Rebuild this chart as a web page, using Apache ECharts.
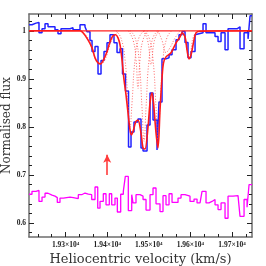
<!DOCTYPE html>
<html><head><meta charset="utf-8">
<script src="https://cdn.jsdelivr.net/npm/echarts@6/dist/echarts.min.js"></script>
<style>html,body{margin:0;padding:0;background:#fff}#c{width:266px;height:266px}</style>
</head><body><div id="c"></div>
<script>
// ---- data ----
const xMin = 19212, xMax = 19748;
const yMin = 0.571, yMax = 1.035;
const xMajorTicks = [19300, 19400, 19500, 19600, 19700];
const yMajorTicks = [0.6, 0.7, 0.8, 0.9, 1.0];

// observed flux (blue histogram), bin left edges + final right edge
const blueVel = [19212.0,19219.2,19228.8,19236.0,19243.3,19250.5,19257.7,19274.5,19281.7,19288.9,19310.6,19317.8,19334.6,19346.6,19351.4,19358.6,19363.5,19370.7,19377.9,19385.1,19392.3,19399.5,19406.7,19416.3,19423.6,19430.8,19436.8,19444.0,19451.2,19457.2,19464.4,19474.0,19481.2,19486.1,19495.7,19502.9,19510.1,19519.7,19524.5,19531.7,19541.3,19548.6,19555.8,19565.4,19572.6,19579.8,19587.0,19594.2,19601.4,19611.1,19615.9,19630.3,19637.5,19659.1,19666.4,19673.6,19683.2,19690.4,19712.0,19719.2,19728.9,19738.5,19743.3,19748];
const blueFlux = [1.0125,1.016,1.0173,0.9958,1.0042,1.0146,1.0083,1.0021,0.9938,1.0042,1.0063,1.0021,1.0125,1.0083,0.9979,0.9798,0.9569,0.9673,0.9104,0.9381,0.9569,0.975,0.9917,0.975,0.9548,0.9625,0.9104,0.875,0.7583,0.7896,0.8104,0.8167,0.7563,0.75,0.8042,0.8708,0.8146,0.7521,0.8521,0.9417,0.9438,0.95,0.9604,0.9813,0.9917,0.9985,0.9756,0.9438,0.9569,0.9917,0.9958,1.0146,0.9958,0.9881,0.9777,0.9958,0.9604,1.0042,1.0083,0.9625,0.9958,0.9833,1.0313,1.0313];

// error spectrum (magenta histogram, offset)
const errVel = [19212.0,19219.2,19228.8,19236.0,19243.3,19250.5,19257.7,19267.3,19274.5,19280.0,19286.5,19294.5,19310.6,19318.5,19330.5,19338.7,19346.6,19354.6,19362.7,19370.7,19377.2,19382.7,19390.6,19397.1,19405.0,19410.8,19418.7,19424.3,19432.4,19438.7,19443.5,19450.7,19458.9,19462.0,19469.2,19478.8,19486.1,19493.3,19502.9,19510.1,19517.3,19526.9,19534.1,19541.3,19548.6,19555.8,19570.2,19577.4,19587.0,19599.0,19608.7,19615.9,19623.1,19627.9,19637.5,19644.7,19651.9,19659.1,19666.4,19673.6,19683.2,19690.4,19702.4,19714.4,19719.2,19728.9,19736.1,19740.9,19748];
const errFlux = [0.660,0.666,0.668,0.645,0.654,0.662,0.658,0.656,0.653,0.643,0.652,0.654,0.653,0.651,0.659,0.6625,0.660,0.659,0.649,0.675,0.631,0.645,0.661,0.638,0.661,0.638,0.652,0.623,0.660,0.666,0.697,0.626,0.659,0.642,0.659,0.656,0.649,0.627,0.659,0.673,0.640,0.624,0.657,0.638,0.661,0.643,0.652,0.659,0.656,0.645,0.650,0.642,0.645,0.666,0.642,0.645,0.649,0.638,0.628,0.642,0.610,0.656,0.657,0.659,0.614,0.649,0.633,0.680,0.680];

// total fit (red solid)
const fitVel = [19212,19334.6,19341.8,19353.8,19363.5,19370.7,19377.9,19384.4,19389.9,19399.5,19406.7,19413.9,19420.4,19426.0,19430.8,19435.6,19440.4,19445.2,19450.0,19454.8,19458.4,19463.2,19468.5,19474.0,19481.2,19486.1,19490.9,19498.1,19502.9,19507.7,19511.3,19517.3,19522.1,19526.9,19531.7,19535.3,19541.3,19553.4,19565.4,19575.0,19579.8,19587.0,19591.8,19596.6,19601.4,19608.7,19613.5,19623.1,19748];
const fitFlux = [1.0,1.0,0.9958,0.9813,0.9646,0.9438,0.9333,0.9313,0.9375,0.9563,0.9771,0.9896,0.9917,0.9854,0.9708,0.9396,0.8979,0.8667,0.8292,0.7938,0.7833,0.7938,0.8104,0.8146,0.7875,0.7563,0.7542,0.80,0.85,0.8708,0.85,0.7875,0.7563,0.8354,0.9021,0.9333,0.9458,0.9542,0.975,0.9875,0.9958,0.9875,0.9604,0.9417,0.95,0.9813,0.9958,0.999,1.0];

// continuum
const contVel = [19212, 19748];
const contFlux = [1.0, 1.0];

// individual components (red dotted)
const compA_vel = [19421.0,19433.0,19442.8,19450.0,19454.8,19459.6,19466.8,19476.0,19488.6];
const compA_flux = [1.0,0.985,0.94,0.85,0.80,0.85,0.94,0.985,1.0];
const compB_vel = [19455.6,19467.2,19476.4,19483.6,19488.5,19493.3,19500.5,19509.7,19521.3];
const compB_flux = [1.0,0.985,0.94,0.84,0.77,0.84,0.94,0.985,1.0];
const compC_vel = [19489.3,19500.9,19510.1,19517.3,19522.1,19526.9,19534.1,19543.3,19554.9];
const compC_flux = [1.0,0.985,0.94,0.84,0.77,0.84,0.94,0.985,1.0];
const compD_vel = [19450.8,19462.4,19469.2,19474.0,19478.8,19485.6,19497.3];
const compD_flux = [1.0,0.98,0.94,0.88,0.94,0.98,1.0];
const compE_vel = [19486.5,19497.1,19505.3,19513.5,19524.1];
const compE_flux = [1.0,0.98,0.93,0.98,1.0];
const compF_vel = [19339.4,19353.8,19363.5,19373.1,19384.4,19394.7,19404.3,19413.9,19428.4];
const compF_flux = [1.0,0.985,0.965,0.94,0.931,0.94,0.965,0.985,1.0];
const compG_vel = [19577.4,19587.0,19591.8,19596.6,19601.4,19606.2,19615.9];
const compG_flux = [1.0,0.985,0.96,0.945,0.96,0.985,1.0];
const compH_vel = [19522.1,19531.7,19541.3,19550.9,19562.9,19575.0];
const compH_flux = [1.0,0.98,0.955,0.965,0.985,1.0];

// arrow marker
const arrowVel = 19400;
const arrowFrom = 0.70, arrowTo = 0.742;

// ---- chart ----
const zip = (a, b) => a.map((v, i) => [v, b[i]]);
const xMinor = [];
for (let v = xMajorTicks[0] - 100; v <= xMax; v += 100 / 3) { if (v >= xMin && v <= xMax) xMinor.push(v); }
const yMinor = [];
for (let k = 0; k < 40; k++) { const v = 0.56 + k * 0.02; if (v >= yMin && v <= yMax) yMinor.push(+v.toFixed(3)); }

const frame = '#6e6e6e', tickCol = '#222';
const serif = 'Liberation Serif';
function xAx(pos, major, showLine, showLabel) {
  return {
    type: 'value', position: pos, min: xMin, max: xMax,
    axisLine: { show: showLine, onZero: false, lineStyle: { color: frame, width: 1.5 } },
    axisTick: { show: true, inside: true, length: major ? 5 : 3, customValues: major ? xMajorTicks : xMinor, lineStyle: { color: tickCol, width: 1 } },
    axisLabel: showLabel ? {
      show: true, customValues: xMajorTicks, margin: 4,
      formatter: v => '{a|' + (v / 1e4).toFixed(2) + '×10}{b|4}',
      rich: { a: { fontSize: 7.5, fontFamily: serif, fontWeight: 'bold', color: '#222' },
              b: { fontSize: 5, fontFamily: serif, fontWeight: 'bold', color: '#222', padding: [0, 0, 4, 0] } }
    } : { show: false },
    splitLine: { show: false },
    name: showLabel ? 'Heliocentric velocity (km/s)' : '',
    nameLocation: 'middle', nameGap: 16, nameMoveOverlap: false,
    nameTextStyle: { fontFamily: 'DejaVu Serif', fontSize: 13, color: '#333' }
  };
}
function yAx(pos, major, showLine, showLabel) {
  return {
    type: 'value', position: pos, min: yMin, max: yMax,
    axisLine: { show: showLine, onZero: false, lineStyle: { color: frame, width: 1.5 } },
    axisTick: { show: true, inside: true, length: major ? 5 : 3, customValues: major ? yMajorTicks : yMinor, lineStyle: { color: tickCol, width: 1 } },
    axisLabel: showLabel ? { show: true, customValues: yMajorTicks, margin: 3, fontSize: 7.5, fontFamily: serif, fontWeight: 'bold', color: '#222',
      formatter: v => (Math.abs(v - 1) < 1e-9 ? '1' : v.toFixed(1)) } : { show: false },
    splitLine: { show: false },
    name: showLabel ? 'Normalised flux' : '',
    nameLocation: 'middle', nameGap: 16, nameMoveOverlap: false,
    nameTextStyle: { fontFamily: 'DejaVu Serif', fontSize: 12, color: '#333' }
  };
}

const dotted = (vel, flux) => ({
  type: 'line', data: zip(vel, flux), smooth: 0.5, symbol: 'none', silent: true,
  lineStyle: { color: '#ff5c5c', width: 1, type: [1, 1.8], opacity: 0.9 }, z: 3
});

const chart = echarts.init(document.getElementById('c'), null, { renderer: 'canvas' });
chart.setOption({
  animation: false,
  backgroundColor: '#fff',
  grid: { left: 29, right: 14, top: 14, bottom: 29, containLabel: false, outerBoundsMode: 'none' },
  xAxis: [xAx('bottom', true, true, true), xAx('bottom', false, false, false), xAx('top', true, true, false), xAx('top', false, false, false)],
  yAxis: [yAx('left', true, true, true), yAx('left', false, false, false), yAx('right', true, true, false), yAx('right', false, false, false)],
  series: [
    { type: 'line', data: zip(errVel, errFlux), step: 'end', symbol: 'none', lineStyle: { color: '#ff00ff', width: 1.3 }, z: 2,
      markLine: { silent: true, symbol: ['none', 'arrow'], symbolSize: [6, 8], label: { show: false },
        lineStyle: { color: '#ff3b3b', width: 1.6, type: 'solid' },
        data: [[{ coord: [arrowVel, arrowFrom] }, { coord: [arrowVel, arrowTo] }]] } },
    { type: 'line', data: zip(blueVel, blueFlux), step: 'end', symbol: 'none', lineStyle: { color: '#2222ff', width: 1.5 }, z: 2 },
    dotted(compA_vel, compA_flux), dotted(compB_vel, compB_flux), dotted(compC_vel, compC_flux), dotted(compD_vel, compD_flux),
    dotted(compE_vel, compE_flux), dotted(compF_vel, compF_flux), dotted(compG_vel, compG_flux), dotted(compH_vel, compH_flux),
    { type: 'line', data: zip(contVel, contFlux), symbol: 'none', lineStyle: { color: '#ff2020', width: 1.3 }, z: 4 },
    { type: 'line', data: zip(fitVel, fitFlux), smooth: 0.3, symbol: 'none', lineStyle: { color: '#ff1a1a', width: 1.6 }, z: 5 }
  ]
});
</script></body></html>
